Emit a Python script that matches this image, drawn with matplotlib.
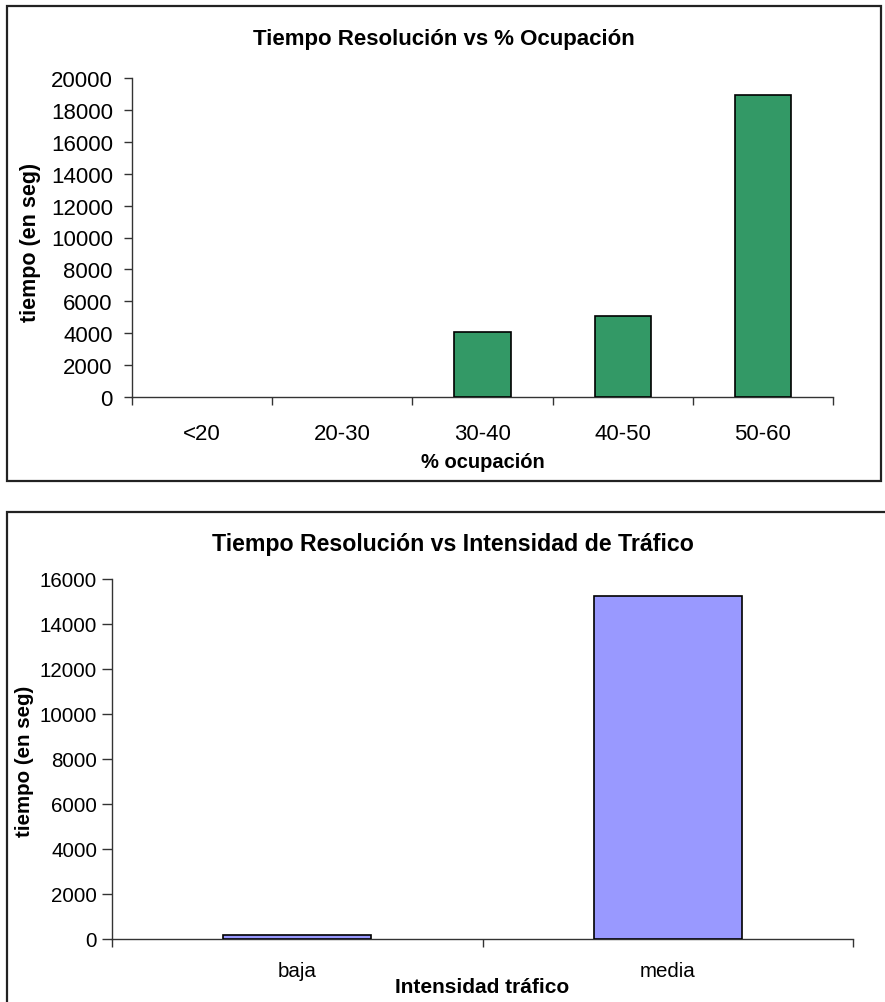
import matplotlib
matplotlib.use('Agg')
import matplotlib.pyplot as plt
from matplotlib.patches import Rectangle

plt.rcParams['font.family'] = ['Liberation Sans', 'DejaVu Sans']

# datos
ocupacion = ['<20', '20-30', '30-40', '40-50', '50-60']
tiempo_ocup = [0, 0, 4100, 5100, 18950]
intensidad = ['baja', 'media']
tiempo_int = [200, 15250]

W, H = 885, 1003
fig = plt.figure(figsize=(W / 100, H / 100), dpi=100)


def px_axes(l, t, r, b):
    return fig.add_axes([l / W, 1 - b / H, (r - l) / W, (b - t) / H])


def px_text(x, y, s, **kw):
    fig.text(x / W, 1 - y / H, s, ha='center', va='center', **kw)


def frame(l, t, r, b):
    fig.patches.append(Rectangle((l / W, 1 - b / H), (r - l) / W, (b - t) / H,
                                 transform=fig.transFigure, fill=False,
                                 edgecolor='#222222', lw=1.6, clip_on=False))


def style(ax, cats, vals, color, ymax, ystep, fs, pad_x, ytl, ypad):
    x = range(len(cats))
    # las barras a cero no se dibujan
    lws = [1.2 if v > 0 else 0 for v in vals]
    ax.bar(x, vals, width=0.4, color=color, edgecolor='black', linewidth=lws, zorder=3)
    ax.set_xlim(-0.5, len(cats) - 0.5)
    ax.set_ylim(0, ymax)
    ax.set_yticks(range(0, ymax + 1, ystep))
    ax.set_xticks(list(x))
    ax.set_xticklabels(cats)
    ax.set_xticks([i - 0.5 for i in range(len(cats) + 1)], minor=True)
    ax.tick_params(axis='x', which='major', length=0, pad=pad_x, labelsize=fs)
    ax.tick_params(axis='x', which='minor', length=6, width=1, color='#333333')
    ax.tick_params(axis='y', length=ytl, width=1, pad=ypad, labelsize=fs, color='#333333')
    for s in ['top', 'right']:
        ax.spines[s].set_visible(False)
    for s in ['left', 'bottom']:
        ax.spines[s].set_color('#333333')
        ax.spines[s].set_linewidth(1)
    ax.patch.set_alpha(0)


# grafico superior
frame(7, 7, 881, 482)
ax1 = px_axes(132, 79, 833, 398)
style(ax1, ocupacion, tiempo_ocup, '#339966', 20000, 2000, 16, 19, 5.8, 8)
px_text(444, 40, 'Tiempo Resolución vs % Ocupación', fontsize=16, fontweight='bold')
px_text(483, 463, '% ocupación', fontsize=14.5, fontweight='bold')
px_text(31, 242, 'tiempo (en seg)', fontsize=15.5, fontweight='bold', rotation=90)

# grafico inferior
frame(7, 513, 900, 1010)
ax2 = px_axes(112, 580, 853, 940)
style(ax2, intensidad, tiempo_int, '#9999FF', 16000, 2000, 14.8, 16, 7.2, 3.6)
px_text(453, 545, 'Tiempo Resolución vs Intensidad de Tráfico', fontsize=16.7, fontweight='bold')
px_text(482, 988, 'Intensidad tráfico', fontsize=15, fontweight='bold')
px_text(25, 761, 'tiempo (en seg)', fontsize=14.8, fontweight='bold', rotation=90)

fig.savefig('out.png', dpi=100)
